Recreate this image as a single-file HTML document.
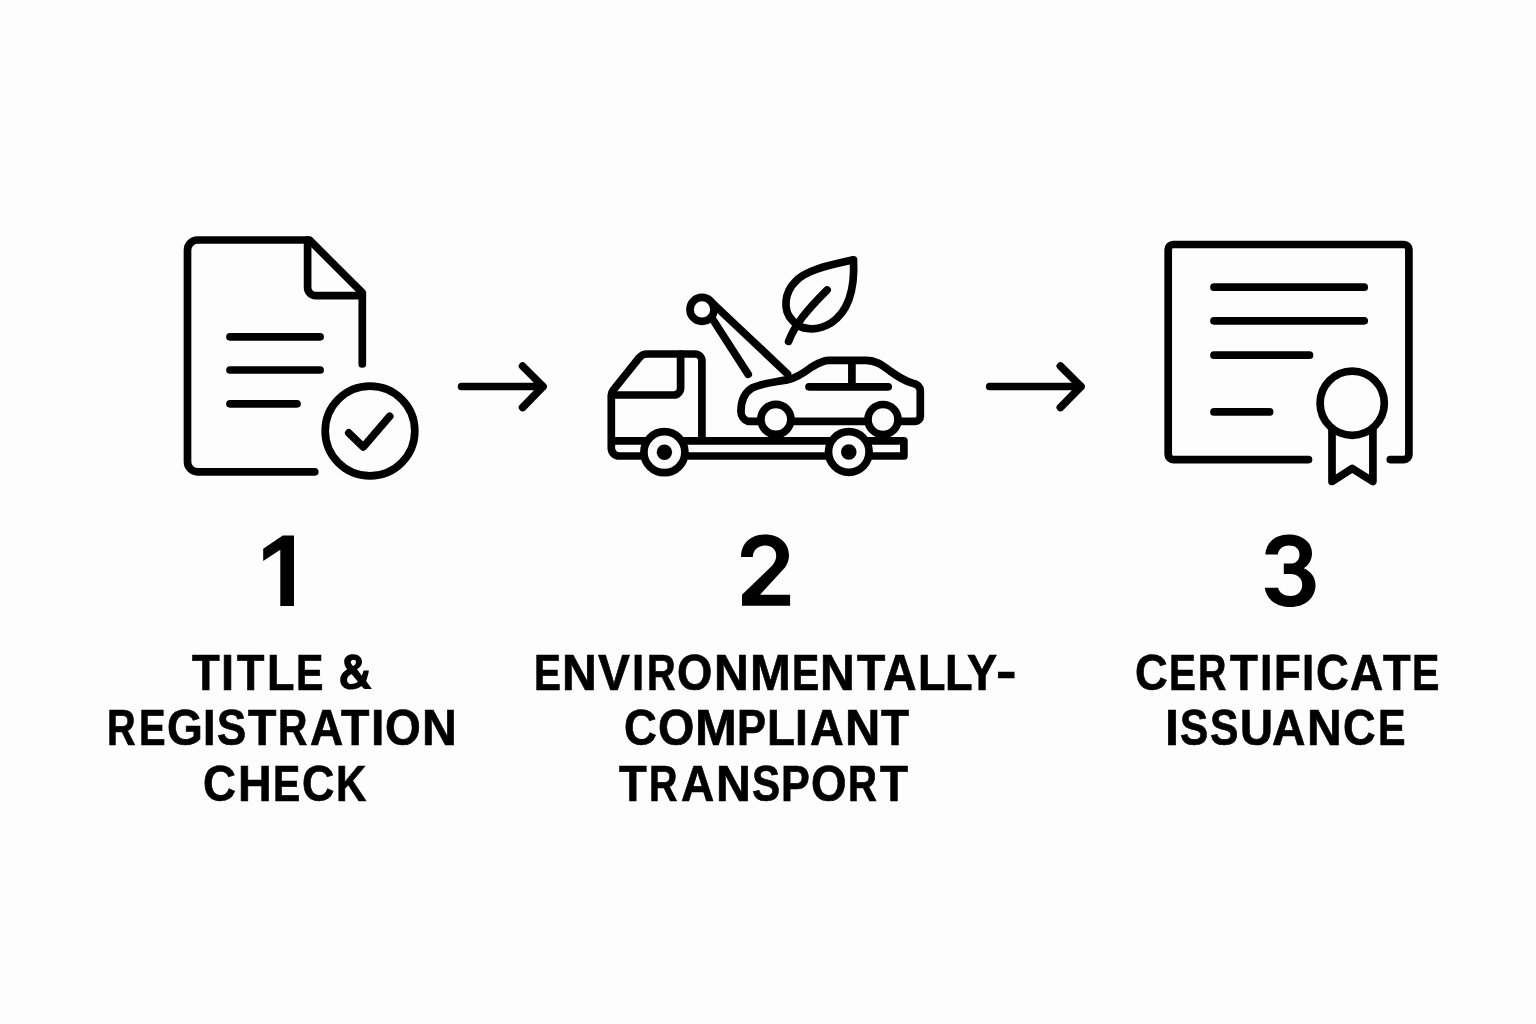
<!DOCTYPE html>
<html>
<head>
<meta charset="utf-8">
<style>
html,body{margin:0;padding:0;width:1536px;height:1024px;overflow:hidden;background:#fdfdfd;}
svg{position:absolute;left:0;top:0;}
.t{position:absolute;font-family:"Liberation Sans",sans-serif;font-weight:bold;font-size:49.2px;line-height:1;-webkit-text-stroke:0.7px #000;white-space:nowrap;color:#000;transform-origin:0 0;}
</style>
</head>
<body>
<svg width="1536" height="1024" viewBox="0 0 1536 1024">
<g fill="none" stroke="#000" stroke-width="7.7" stroke-linecap="round" stroke-linejoin="round">
  <!-- ICON 1: document -->
  <path d="M314.75,471.8 H197.5 A10,10 0 0 1 187.5,461.8 V250 A10,10 0 0 1 197.5,240 H309.5 L362.3,292.8 V364"/>
  <path d="M307.6,240 V287.6 A8,8 0 0 0 315.6,295.6 H362.3"/>
  <path d="M230,336.8 H320.1 M230,370 H320.1 M230,403.8 H297"/>
  <circle cx="370" cy="431" r="44.8"/>
  <path d="M348.8,432.9 L363.3,446.9 L389.7,416.3"/>

  <!-- arrows -->
  <path d="M461.6,386.5 H543 M522.6,366.1 L543,386.5 L522.6,407.5"/>
  <path d="M989.7,386.5 H1081 M1060.4,366.1 L1081,386.5 L1060.4,407.5"/>

  <!-- ICON 2: tow truck -->
  <!-- crane arms -->
  <path d="M712,302.7 L787.5,374"/>
  <path d="M708,312 L748.2,374.3"/>
  <!-- cab + bed -->
  <path d="M701.9,440.8 V361 A7,7 0 0 0 694.9,354 H647 A10,10 0 0 0 639.2,357.75 L613.05,390.3 A8,8 0 0 0 611.3,395.3 V448 A8,8 0 0 0 619.3,456 H903.9 V440.8 H611.3"/>
  <path d="M680.6,354 V388 A7,7 0 0 1 673.6,395 H615.5"/>
  <!-- car body -->
  <path fill="#fdfdfd" d="M748,421.3 H915.3 A5,5 0 0 0 920.3,416.3 V391 C920.3,386 917,384 912,383 C905,381 897,376 890,371 C882,365 876,360.3 866,360.3 H829 C822,360.3 818,363.5 810.6,367.7 C803,373.5 796,378 788,379.6 C777,382 762,383 752,388 C744,393 741,401 741,411 A10.3,10.3 0 0 0 748,421.3 Z"/>
  <path d="M851.9,363 V386.8 M809,386.8 H888.2"/>
  <!-- pulley -->
  <circle cx="702" cy="309.4" r="12" fill="#fdfdfd"/>
  <!-- truck wheels -->
  <circle cx="664.4" cy="452.2" r="20.5" fill="#fdfdfd"/>
  <circle cx="848.8" cy="452" r="20.3" fill="#fdfdfd"/>
  <!-- car wheels -->
  <circle cx="775.9" cy="419.3" r="15" fill="#fdfdfd"/>
  <circle cx="883" cy="419.5" r="15" fill="#fdfdfd"/>
  <!-- leaf -->
  <path d="M853.5,259.8 C830,265 805,270 795,282 C785,292 782,310 792.5,320.5 C800,330 816,332 831,323 C848,312 855,290 853.5,259.8 Z"/>
  <path d="M788.6,341.3 C795,325 805,312 827.1,290"/>

  <!-- ICON 3: certificate -->
  <path d="M1308.5,459.6 H1173.2 A5,5 0 0 1 1168.2,454.6 V249.5 A5,5 0 0 1 1173.2,244.5 H1403.9 A5,5 0 0 1 1408.9,249.5 V454.6 A5,5 0 0 1 1403.9,459.6 H1390.3"/>
  <path d="M1214,287.2 H1364.2 M1214,320.8 H1364.2 M1214,355.2 H1309.5 M1214,411.9 H1269.6"/>
  <path fill="#fdfdfd" d="M1332,420 V481.5 L1352.2,468.5 L1372.9,481.5 V420"/>
  <circle cx="1352.2" cy="403.2" r="32.1" fill="#fdfdfd"/>
</g>
<g fill="#000">
  <!-- hubs -->
  <circle cx="664.4" cy="452.2" r="7.7"/>
  <circle cx="848.8" cy="452" r="7.8"/>
  <!-- digit 2 -->
  <path d="M741.1,557 C741.1,543 751,534.5 765.1,534.5 C779,534.5 789,543 789,555 C789,560 787.5,564 785,567.5 L760,594.8 H790.1 V605.8 H742 V594.8 L772.5,565.2 C775,562 776.2,559 776.2,555.5 C776.2,549.5 771.5,545.6 765.1,545.6 C758,545.6 753,550 752.8,557 Z"/>
  <!-- digit 3 -->
  <path d="M1265.3,554.6 C1266,542 1276,534.5 1288.5,534.5 C1302,534.5 1312,542 1312,553 C1312,560 1308.5,565.5 1303.75,568.3 C1311,571.5 1315.5,577.5 1315.5,585 C1315.5,598 1305,607 1290.5,607 C1276,607 1266,599 1264.8,587.8 H1278 C1279.5,593 1284,596 1290.5,596 C1297.5,596 1302.2,591.5 1302.2,584.7 C1302.2,578.5 1297.5,574.1 1290.5,574.1 H1283.8 V563.6 H1290.5 C1296,563.6 1299.5,560 1299.5,554.5 C1299.5,549 1295.5,545.6 1288.9,545.6 C1282.5,545.6 1278.5,549.5 1277.8,554.6 Z"/>
  <!-- ampersand -->
  <path fill-rule="evenodd" d="M353.2,654.3 C358.5,654.3 362,657.5 362,662 C362,665 360,667.5 357.05,669.3 L361.8,675.8 C362.5,674 363,672.5 363.5,670.6 H368.9 C368.3,674.5 367.3,678 366.1,680.9 L371.9,688.9 H364.4 L361.35,686.1 C359,688.2 355.5,689.6 350.6,689.6 C344.5,689.6 340.2,685.5 340.2,680 C340.2,675 343.5,671.5 347.2,669.3 C345.2,667 344.2,664.5 344.2,661.5 C344.2,657 348,654.3 353.2,654.3 Z M353.6,659.7 C351.8,659.7 350.8,660.8 350.8,662.3 C350.8,663.8 352,665 353.2,666.1 C355,665 356,663.5 356,662 C356,660.5 355,659.7 353.6,659.7 Z M351.5,674.1 C348.8,675.5 347,677.3 347,679.8 C347,682.2 348.5,684 350.8,684 C353.5,684 355.8,683.2 357.9,681.8 Z"/>
  <!-- digit 1 -->
  <polygon points="282.75,535.6 294,535.6 294,606 280.3,606 280.3,549.8 263.2,561 263.2,548.8"/>
</g>
</svg>


<div id="txt" style="position:absolute;left:0;top:0;width:1536px;height:1024px;filter:grayscale(1)">
<div class="t" style="left:191.57px;top:648.37px;transform:scaleX(0.9220)">T</div>
<div class="t" style="left:221.14px;top:648.37px;transform:scaleX(0.9548)">I</div>
<div class="t" style="left:236.77px;top:648.37px;transform:scaleX(0.9119)">T</div>
<div class="t" style="left:267.35px;top:648.37px;transform:scaleX(0.9154)">L</div>
<div class="t" style="left:296.49px;top:648.37px;transform:scaleX(0.8354)">E</div>
<div class="t" style="left:107.48px;top:703.47px;transform:scaleX(0.8062)">R</div>
<div class="t" style="left:139.47px;top:703.47px;transform:scaleX(0.8106)">E</div>
<div class="t" style="left:166.66px;top:703.47px;transform:scaleX(0.9363)">G</div>
<div class="t" style="left:203.25px;top:703.47px;transform:scaleX(0.9161)">I</div>
<div class="t" style="left:217.21px;top:703.47px;transform:scaleX(0.8893)">S</div>
<div class="t" style="left:247.96px;top:703.47px;transform:scaleX(0.9458)">T</div>
<div class="t" style="left:277.92px;top:703.47px;transform:scaleX(0.8281)">R</div>
<div class="t" style="left:310.20px;top:703.47px;transform:scaleX(0.9353)">A</div>
<div class="t" style="left:340.76px;top:703.47px;transform:scaleX(0.9458)">T</div>
<div class="t" style="left:371.06px;top:703.47px;transform:scaleX(0.9806)">I</div>
<div class="t" style="left:385.36px;top:703.47px;transform:scaleX(0.9353)">O</div>
<div class="t" style="left:422.06px;top:703.47px;transform:scaleX(0.9797)">N</div>
<div class="t" style="left:203.38px;top:759.27px;transform:scaleX(0.9282)">C</div>
<div class="t" style="left:238.06px;top:759.27px;transform:scaleX(0.9458)">H</div>
<div class="t" style="left:273.10px;top:759.27px;transform:scaleX(0.8319)">E</div>
<div class="t" style="left:301.80px;top:759.27px;transform:scaleX(0.9130)">C</div>
<div class="t" style="left:336.33px;top:759.27px;transform:scaleX(0.8554)">K</div>
<div class="t" style="left:533.64px;top:648.37px;transform:scaleX(0.8212)">E</div>
<div class="t" style="left:562.27px;top:648.37px;transform:scaleX(0.9763)">N</div>
<div class="t" style="left:598.10px;top:648.37px;transform:scaleX(0.9727)">V</div>
<div class="t" style="left:632.43px;top:648.37px;transform:scaleX(0.8903)">I</div>
<div class="t" style="left:646.58px;top:648.37px;transform:scaleX(0.8062)">R</div>
<div class="t" style="left:677.28px;top:648.37px;transform:scaleX(0.9237)">O</div>
<div class="t" style="left:714.17px;top:648.37px;transform:scaleX(0.9763)">N</div>
<div class="t" style="left:749.62px;top:648.37px;transform:scaleX(0.9943)">M</div>
<div class="t" style="left:791.60px;top:648.37px;transform:scaleX(0.8319)">E</div>
<div class="t" style="left:820.47px;top:648.37px;transform:scaleX(0.9763)">N</div>
<div class="t" style="left:857.06px;top:648.37px;transform:scaleX(0.9424)">T</div>
<div class="t" style="left:882.89px;top:648.37px;transform:scaleX(0.9441)">A</div>
<div class="t" style="left:917.55px;top:648.37px;transform:scaleX(0.9154)">L</div>
<div class="t" style="left:945.44px;top:648.37px;transform:scaleX(0.9192)">L</div>
<div class="t" style="left:967.07px;top:648.37px;transform:scaleX(0.9178)">Y</div>
<div class="t" style="left:995.92px;top:645.6px;transform:scaleX(1.2528)">-</div>
<div class="t" style="left:624.28px;top:703.47px;transform:scaleX(0.9252)">C</div>
<div class="t" style="left:658.24px;top:703.47px;transform:scaleX(0.9496)">O</div>
<div class="t" style="left:694.95px;top:703.47px;transform:scaleX(1.0171)">M</div>
<div class="t" style="left:737.25px;top:703.47px;transform:scaleX(0.8842)">P</div>
<div class="t" style="left:767.11px;top:703.47px;transform:scaleX(0.9308)">L</div>
<div class="t" style="left:795.27px;top:703.47px;transform:scaleX(0.9419)">I</div>
<div class="t" style="left:810.29px;top:703.47px;transform:scaleX(0.9500)">A</div>
<div class="t" style="left:844.82px;top:703.47px;transform:scaleX(0.9932)">N</div>
<div class="t" style="left:881.37px;top:703.47px;transform:scaleX(0.9322)">T</div>
<div class="t" style="left:618.67px;top:759.27px;transform:scaleX(0.9220)">T</div>
<div class="t" style="left:648.99px;top:759.27px;transform:scaleX(0.8031)">R</div>
<div class="t" style="left:681.40px;top:759.27px;transform:scaleX(0.9353)">A</div>
<div class="t" style="left:715.86px;top:759.27px;transform:scaleX(0.9797)">N</div>
<div class="t" style="left:751.94px;top:759.27px;transform:scaleX(0.8562)">S</div>
<div class="t" style="left:781.37px;top:759.27px;transform:scaleX(0.8772)">P</div>
<div class="t" style="left:811.37px;top:759.27px;transform:scaleX(0.9295)">O</div>
<div class="t" style="left:848.35px;top:759.27px;transform:scaleX(0.8156)">R</div>
<div class="t" style="left:879.67px;top:759.27px;transform:scaleX(0.9322)">T</div>
<div class="t" style="left:1135.19px;top:648.37px;transform:scaleX(0.9221)">C</div>
<div class="t" style="left:1169.44px;top:648.37px;transform:scaleX(0.8212)">E</div>
<div class="t" style="left:1197.60px;top:648.37px;transform:scaleX(0.8000)">R</div>
<div class="t" style="left:1229.77px;top:648.37px;transform:scaleX(0.9254)">T</div>
<div class="t" style="left:1260.09px;top:648.37px;transform:scaleX(0.9032)">I</div>
<div class="t" style="left:1273.73px;top:648.37px;transform:scaleX(0.8902)">F</div>
<div class="t" style="left:1302.33px;top:648.37px;transform:scaleX(0.8903)">I</div>
<div class="t" style="left:1316.49px;top:648.37px;transform:scaleX(0.9221)">C</div>
<div class="t" style="left:1350.40px;top:648.37px;transform:scaleX(0.9353)">A</div>
<div class="t" style="left:1382.67px;top:648.37px;transform:scaleX(0.9186)">T</div>
<div class="t" style="left:1412.49px;top:648.37px;transform:scaleX(0.8354)">E</div>
<div class="t" style="left:1164.94px;top:703.47px;transform:scaleX(1.0194)">I</div>
<div class="t" style="left:1180.14px;top:703.47px;transform:scaleX(0.8595)">S</div>
<div class="t" style="left:1209.93px;top:703.47px;transform:scaleX(0.8661)">S</div>
<div class="t" style="left:1239.58px;top:703.47px;transform:scaleX(0.9289)">U</div>
<div class="t" style="left:1272.29px;top:703.47px;transform:scaleX(0.9412)">A</div>
<div class="t" style="left:1307.07px;top:703.47px;transform:scaleX(0.9763)">N</div>
<div class="t" style="left:1343.09px;top:703.47px;transform:scaleX(0.9191)">C</div>
<div class="t" style="left:1377.78px;top:703.47px;transform:scaleX(0.8389)">E</div>

</div>
</body>
</html>
